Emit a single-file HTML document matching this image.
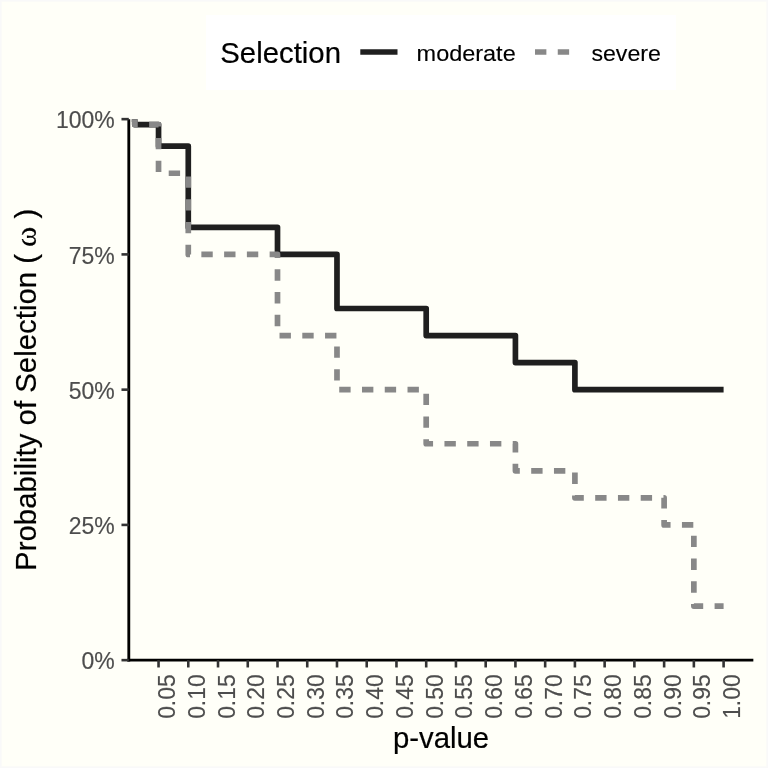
<!DOCTYPE html>
<html lang="en"><head><meta charset="utf-8"><title>Selection models: probability of selection by p-value</title>
<style>html,body{margin:0;padding:0;background:#fffff8;}svg{display:block;}text{font-family:"Liberation Sans",sans-serif;}.t{font-size:29.33px;fill:#000;stroke:#000;stroke-width:0.2px;}.a{font-size:23.47px;fill:#4d4d4d;stroke:#4d4d4d;stroke-width:0.15px;}.l{font-size:23.47px;fill:#000;stroke:#000;stroke-width:0.15px;}</style></head><body>
<svg width="768" height="768" viewBox="0 0 768 768">
<defs><clipPath id="panel"><rect x="128.80" y="119.15" width="624.54" height="541.00"/></clipPath></defs>
<rect x="0" y="0" width="768" height="768" fill="#f9f9f9"/>
<rect x="1.6" y="1.6" width="764.8" height="764.8" fill="#fffff8"/>
<rect x="206" y="15" width="470" height="75" fill="#ffffff"/>
<text class="t" x="220.3" y="62.7">Selection</text>
<line x1="360.3" y1="52" x2="397.5" y2="52" stroke="#1f1f1f" stroke-width="5.69"/>
<text class="l" transform="translate(416.6 60.8) scale(1 0.95)">moderate</text>
<line x1="535" y1="52" x2="572.2" y2="52" stroke="#888888" stroke-width="5.69" stroke-dasharray="11.38 11.38"/>
<text class="l" transform="translate(591.4 60.8) scale(0.987 0.95)">severe</text>
<g clip-path="url(#panel)" fill="none" stroke-linejoin="round" stroke-linecap="butt">
<path d="M131.77 119.15H134.75V124.56H158.54V146.2H188.28V227.35H277.5V254.4H336.98V308.5H426.2V335.55H515.42V362.6H574.9V389.65H664.12H693.86H723.6" stroke="#1f1f1f" stroke-width="5.69"/>
<path d="M131.77 119.15H134.75V124.56H158.54V173.25H188.28V254.4H277.5V335.55H336.98V389.65H426.2V443.75H515.42V470.8H574.9V497.85H664.12V524.9H693.86V606.05H723.6" stroke="#888888" stroke-width="5.69" stroke-dasharray="11.38 11.38"/>
</g>
<g stroke="#000" stroke-width="2.85" fill="none" stroke-linecap="butt">
<line x1="128.8" y1="119.15" x2="128.8" y2="661.57"/>
<line x1="127.38" y1="660.15" x2="753.34" y2="660.15"/>
</g>
<g stroke="#333" stroke-width="2.6" fill="none">
<line x1="121.47" y1="660.15" x2="128.8" y2="660.15"/>
<line x1="121.47" y1="524.9" x2="128.8" y2="524.9"/>
<line x1="121.47" y1="389.65" x2="128.8" y2="389.65"/>
<line x1="121.47" y1="254.4" x2="128.8" y2="254.4"/>
<line x1="121.47" y1="119.15" x2="128.8" y2="119.15"/>
<line x1="158.54" y1="660.15" x2="158.54" y2="667.48"/>
<line x1="188.28" y1="660.15" x2="188.28" y2="667.48"/>
<line x1="218.02" y1="660.15" x2="218.02" y2="667.48"/>
<line x1="247.76" y1="660.15" x2="247.76" y2="667.48"/>
<line x1="277.5" y1="660.15" x2="277.5" y2="667.48"/>
<line x1="307.24" y1="660.15" x2="307.24" y2="667.48"/>
<line x1="336.98" y1="660.15" x2="336.98" y2="667.48"/>
<line x1="366.72" y1="660.15" x2="366.72" y2="667.48"/>
<line x1="396.46" y1="660.15" x2="396.46" y2="667.48"/>
<line x1="426.2" y1="660.15" x2="426.2" y2="667.48"/>
<line x1="455.94" y1="660.15" x2="455.94" y2="667.48"/>
<line x1="485.68" y1="660.15" x2="485.68" y2="667.48"/>
<line x1="515.42" y1="660.15" x2="515.42" y2="667.48"/>
<line x1="545.16" y1="660.15" x2="545.16" y2="667.48"/>
<line x1="574.9" y1="660.15" x2="574.9" y2="667.48"/>
<line x1="604.64" y1="660.15" x2="604.64" y2="667.48"/>
<line x1="634.38" y1="660.15" x2="634.38" y2="667.48"/>
<line x1="664.12" y1="660.15" x2="664.12" y2="667.48"/>
<line x1="693.86" y1="660.15" x2="693.86" y2="667.48"/>
<line x1="723.6" y1="660.15" x2="723.6" y2="667.48"/>
</g>
<text class="a" text-anchor="end" transform="translate(114.75 669.45) scale(0.98 1.03)">0%</text>
<text class="a" text-anchor="end" transform="translate(114.75 534.20) scale(0.98 1.03)">25%</text>
<text class="a" text-anchor="end" transform="translate(114.75 398.95) scale(0.98 1.03)">50%</text>
<text class="a" text-anchor="end" transform="translate(114.75 263.70) scale(0.98 1.03)">75%</text>
<text class="a" text-anchor="end" transform="translate(114.75 128.45) scale(0.98 1.03)">100%</text>
<text class="a" text-anchor="end" transform="translate(175.04 674.35) rotate(-90) scale(0.975 1.03)">0.05</text>
<text class="a" text-anchor="end" transform="translate(204.78 674.35) rotate(-90) scale(0.975 1.03)">0.10</text>
<text class="a" text-anchor="end" transform="translate(234.52 674.35) rotate(-90) scale(0.975 1.03)">0.15</text>
<text class="a" text-anchor="end" transform="translate(264.26 674.35) rotate(-90) scale(0.975 1.03)">0.20</text>
<text class="a" text-anchor="end" transform="translate(294.00 674.35) rotate(-90) scale(0.975 1.03)">0.25</text>
<text class="a" text-anchor="end" transform="translate(323.74 674.35) rotate(-90) scale(0.975 1.03)">0.30</text>
<text class="a" text-anchor="end" transform="translate(353.48 674.35) rotate(-90) scale(0.975 1.03)">0.35</text>
<text class="a" text-anchor="end" transform="translate(383.22 674.35) rotate(-90) scale(0.975 1.03)">0.40</text>
<text class="a" text-anchor="end" transform="translate(412.96 674.35) rotate(-90) scale(0.975 1.03)">0.45</text>
<text class="a" text-anchor="end" transform="translate(442.70 674.35) rotate(-90) scale(0.975 1.03)">0.50</text>
<text class="a" text-anchor="end" transform="translate(472.44 674.35) rotate(-90) scale(0.975 1.03)">0.55</text>
<text class="a" text-anchor="end" transform="translate(502.18 674.35) rotate(-90) scale(0.975 1.03)">0.60</text>
<text class="a" text-anchor="end" transform="translate(531.92 674.35) rotate(-90) scale(0.975 1.03)">0.65</text>
<text class="a" text-anchor="end" transform="translate(561.66 674.35) rotate(-90) scale(0.975 1.03)">0.70</text>
<text class="a" text-anchor="end" transform="translate(591.40 674.35) rotate(-90) scale(0.975 1.03)">0.75</text>
<text class="a" text-anchor="end" transform="translate(621.14 674.35) rotate(-90) scale(0.975 1.03)">0.80</text>
<text class="a" text-anchor="end" transform="translate(650.88 674.35) rotate(-90) scale(0.975 1.03)">0.85</text>
<text class="a" text-anchor="end" transform="translate(680.62 674.35) rotate(-90) scale(0.975 1.03)">0.90</text>
<text class="a" text-anchor="end" transform="translate(710.36 674.35) rotate(-90) scale(0.975 1.03)">0.95</text>
<text class="a" text-anchor="end" transform="translate(740.10 674.35) rotate(-90) scale(0.975 1.03)">1.00</text>
<text class="t" text-anchor="middle" x="441.0" y="747.8">p-value</text>
<text class="t" transform="translate(35.8 570.9) rotate(-90)" letter-spacing="0.03">Probability of Selection (</text>
<text class="t" style="font-family:'Liberation Serif',serif" transform="translate(35.9 247) rotate(-90) scale(1.05 1)">ω</text>
<text class="t" transform="translate(35.8 218.4) rotate(-90)">)</text>
</svg></body></html>
